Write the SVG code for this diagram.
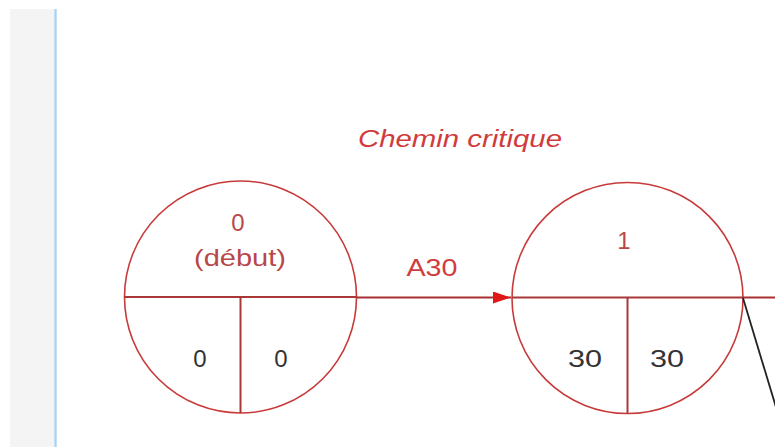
<svg xmlns="http://www.w3.org/2000/svg" width="775" height="447" viewBox="0 0 775 447">
<defs>
<style>
.node{fill:#fff;stroke:#c83a3a;stroke-width:1.6}
.div{stroke:#a83838;stroke-width:2}
.lbl{font-family:"Liberation Sans",Arial,sans-serif;font-size:24px;text-anchor:middle}
.top{fill:#b84848}
.num{fill:#333}
.red{fill:#d03c3c}
.crit{stroke:#a83030;stroke-width:2;fill:none}
</style>
<marker id="arr" viewBox="0 0 18 12" refX="18" refY="6" markerWidth="18" markerHeight="12" markerUnits="userSpaceOnUse" orient="auto">
<path d="M0,0 L18,6 L0,12 Z" fill="#e01818"/>
</marker>
</defs>
<rect width="775" height="447" fill="#fff"/>
<rect x="10" y="9" width="45" height="438" fill="#f4f4f4"/>
<rect x="54" y="9" width="3" height="438" fill="#c4e0f6"/>
<line x1="55.5" y1="9" x2="55.5" y2="447" stroke="#a9d2f2" stroke-width="1"/>
<text class="lbl red" x="460" y="147" font-style="italic" textLength="204" lengthAdjust="spacingAndGlyphs">Chemin critique</text>
<g id="node0">
<circle class="node" cx="240.5" cy="297" r="116"/>
<line class="div" x1="124.5" y1="297" x2="356.5" y2="297"/>
<line class="div" x1="240.5" y1="297" x2="240.5" y2="413"/>
<text class="lbl top" x="238" y="231">0</text>
<text class="lbl top" x="240" y="266" textLength="92" lengthAdjust="spacingAndGlyphs">(début)</text>
<text class="lbl num" x="200" y="367">0</text>
<text class="lbl num" x="281" y="367">0</text>
</g>
<g id="node1">
<circle class="node" cx="627.5" cy="298" r="115.5"/>
<line class="div" x1="512" y1="297.5" x2="743" y2="297.5"/>
<line class="div" x1="627.5" y1="297.5" x2="627.5" y2="413.5"/>
<text class="lbl top" x="624" y="249">1</text>
<text class="lbl num" x="585" y="367" textLength="34" lengthAdjust="spacingAndGlyphs">30</text>
<text class="lbl num" x="667" y="367" textLength="34" lengthAdjust="spacingAndGlyphs">30</text>
</g>
<g id="connectors">
<line class="crit" x1="356.5" y1="297.5" x2="511" y2="297.5" marker-end="url(#arr)"/>
<text class="lbl red" x="432" y="276" textLength="51" lengthAdjust="spacingAndGlyphs">A30</text>
<line class="crit" x1="743" y1="297.5" x2="775" y2="297.5"/>
<line x1="743" y1="298" x2="788" y2="447" stroke="#222" stroke-width="1.8"/>
</g>
</svg>
